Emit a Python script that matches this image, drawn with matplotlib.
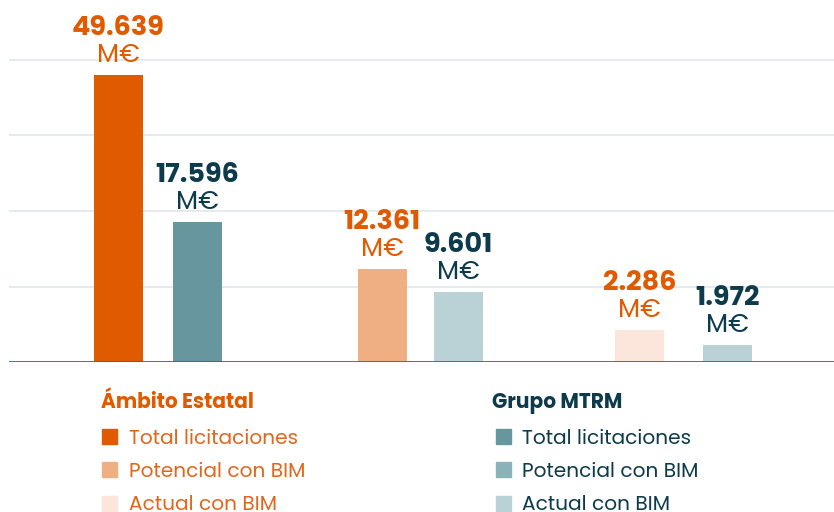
import matplotlib
matplotlib.use("Agg")
import matplotlib.pyplot as plt
from matplotlib.patches import Rectangle

# ---- data ----
groups = ["Total licitaciones", "Potencial con BIM", "Actual con BIM"]
series = ["Ámbito Estatal", "Grupo MTRM"]
value_labels_estatal = ["49.639", "12.361", "2.286"]
value_labels_mtrm = ["17.596", "9.601", "1.972"]
# bar heights as drawn (in gridline units)
heights_estatal = [3.80, 1.23, 0.42]
heights_mtrm = [1.86, 0.93, 0.23]
unit_label = "M€"

# ---- style ----
bar_colors_estatal = ["#E05A00", "#F0AF83", "#FCE5DA"]
bar_colors_mtrm = ["#68969E", "#BAD1D6", "#BAD1D6"]
legend_colors_estatal = ["#E05A00", "#F0AF83", "#FCE5DA"]
legend_colors_mtrm = ["#68969E", "#8AB3B9", "#BAD1D6"]
orange = "#E05A00"
dark = "#0D3B4B"
FONT = ["Poppins", "Lato", "DejaVu Sans"]

W, H = 834, 512
fig = plt.figure(figsize=(W / 100, H / 100), dpi=100)
unit_px = 75.5
base_y = 362
ax = fig.add_axes([9 / W, (H - base_y) / H, 1 - 9 / W, base_y / H])
ax.set_ylim(0, base_y / unit_px)
group_px = 263.0
ax.set_xlim(-(158 - 9) / group_px, -(158 - 9) / group_px + (W - 9) / group_px)
for s in ax.spines.values():
    s.set_visible(False)
ax.set_xticks([])
ax.set_yticks([])
for g in [1, 2, 3, 4]:
    ax.axhline(g, color="#E3E8EA", lw=1.3, zorder=0)
ax.axhline(0, color="#3D6B78", lw=1.3, zorder=3)

offsets = [(-0.150, 0.150), (-0.148, 0.142), (-0.169, 0.166)]
bw = 49 / group_px
for i in range(len(groups)):
    for j, (hs, cols, labs, tc) in enumerate([
        (heights_estatal, bar_colors_estatal, value_labels_estatal, orange),
        (heights_mtrm, bar_colors_mtrm, value_labels_mtrm, dark),
    ]):
        x = i + offsets[i][j]
        ax.bar(x, hs[i], width=bw, color=cols[i], zorder=2)
        ax.annotate(unit_label, (x, hs[i]), xytext=(0, 13), textcoords="offset pixels",
                    ha="center", va="baseline", fontsize=18.5, color=tc,
                    family=FONT, fontweight="normal")
        ax.annotate(labs[i], (x, hs[i]), xytext=(0, 40), textcoords="offset pixels",
                    ha="center", va="baseline", fontsize=19.5, color=tc,
                    family=FONT, fontweight="bold")

# ---- legends ----
def fy(y):
    return 1 - y / H

def legend(x_title, x_sq, x_txt, title, tcolor, colors, txtcolor):
    fig.text(x_title / W, fy(408), title, fontsize=14.5, fontweight="bold",
             color=tcolor, family=FONT, va="baseline", ha="left")
    for k, (lab, c) in enumerate(zip(groups, colors)):
        yc = 436 + k * 33.5
        fig.patches.append(Rectangle((x_sq / W, fy(yc + 7.5)), 15 / W, 15 / H,
                                     transform=fig.transFigure, color=c))
        fig.text(x_txt / W, fy(yc), lab, fontsize=14.5, color=txtcolor,
                 family=FONT, fontweight="normal", va="center_baseline", ha="left")

legend(101, 102, 129, series[0], orange, legend_colors_estatal, "#E2661B")
legend(492, 496, 522, series[1], dark, legend_colors_mtrm, dark)

fig.savefig("out.png", dpi=100)
